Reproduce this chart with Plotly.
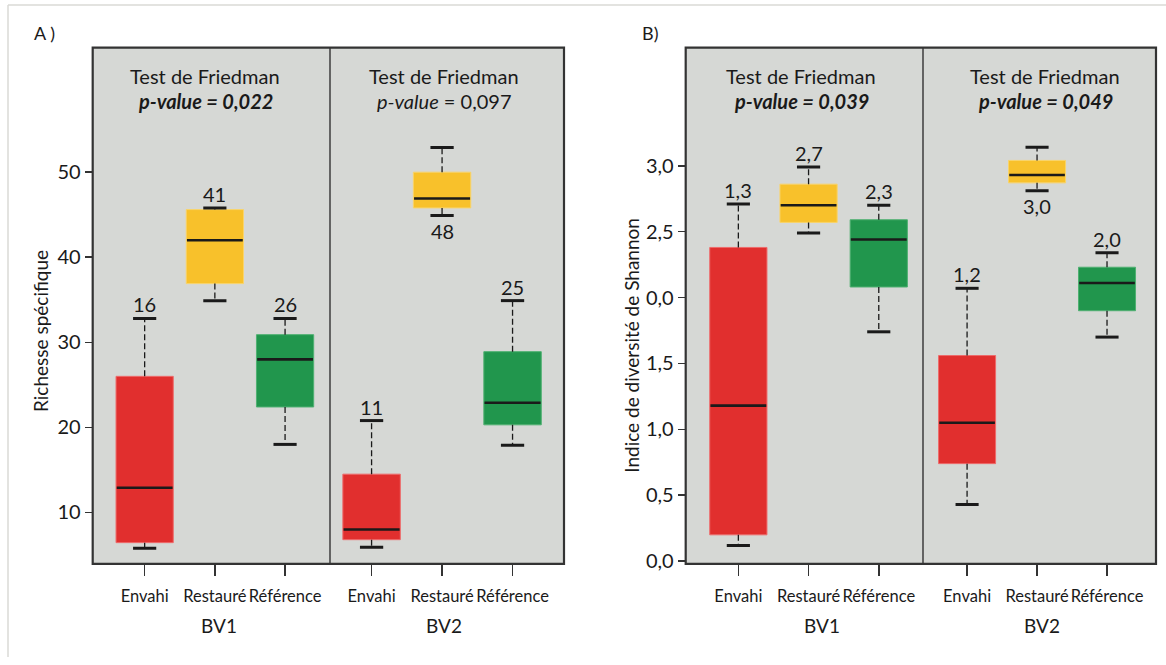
import plotly.graph_objects as go

# ---------------- data ----------------
categories = ["Envahi", "Restauré", "Référence"]
groups = ["BV1", "BV2"]
box_colors = ["#E12F2E", "#F8C12B", "#21964D"]
box_edges = ["#EE6A6A", "#F9D46A", "#4FB071"]

# Panel A : Richesse spécifique
rich_bv1_low = [5.8, 34.9, 18.0]
rich_bv1_q1 = [6.45, 36.9, 22.4]
rich_bv1_med = [12.9, 42.0, 28.0]
rich_bv1_q3 = [26.0, 45.6, 30.9]
rich_bv1_high = [32.8, 45.8, 32.8]
rich_bv1_labels = ["16", "41", "26"]

rich_bv2_low = [5.9, 44.9, 17.9]
rich_bv2_q1 = [6.8, 45.8, 20.3]
rich_bv2_med = [8.0, 46.9, 22.9]
rich_bv2_q3 = [14.5, 50.0, 28.9]
rich_bv2_high = [20.8, 52.9, 34.9]
rich_bv2_labels = ["11", "48", "25"]

rich_tickvals = [10, 20, 30, 40, 50]
rich_ticktext = ["10", "20", "30", "40", "50"]

# Panel B : Indice de diversité de Shannon
shan_bv1_low = [0.12, 2.49, 1.74]
shan_bv1_q1 = [0.20, 2.57, 2.08]
shan_bv1_med = [1.18, 2.70, 2.44]
shan_bv1_q3 = [2.38, 2.86, 2.59]
shan_bv1_high = [2.71, 2.99, 2.70]
shan_bv1_labels = ["1,3", "2,7", "2,3"]

shan_bv2_low = [0.43, 2.81, 1.70]
shan_bv2_q1 = [0.74, 2.87, 1.90]
shan_bv2_med = [1.05, 2.93, 2.11]
shan_bv2_q3 = [1.56, 3.04, 2.23]
shan_bv2_high = [2.07, 3.14, 2.34]
shan_bv2_labels = ["1,2", "3,0", "2,0"]

shan_tickvals = [0, 0.5, 1.0, 1.5, 2.0, 2.5, 3.0]
shan_ticktext = ["0,0", "0,5", "1,0", "1,5", "0,0", "2,5", "3,0"]

# label drawn below the lower whisker instead of above the upper one
label_below = [False, False, False]
label_below_bv2 = [False, True, False]

FONT = "Lato"
W, H = 1166, 665

fig = go.Figure()

def px_x(p):
    return p / W

def px_y(p):
    return 1 - p / H

# subplot geometry (pixels)
y_top, y_bot = 48.3, 570.7
panels = [
    ("x", "y", 92.7, 330, [-0.74, 2.64]),
    ("x2", "y", 330, 564, [-0.59, 2.73]),
    ("x3", "y2", 685.7, 923, [-0.75, 2.63]),
    ("x4", "y2", 923, 1156, [-0.63, 2.70]),
]

datasets = [
    (rich_bv1_low, rich_bv1_q1, rich_bv1_med, rich_bv1_q3, rich_bv1_high, rich_bv1_labels, label_below),
    (rich_bv2_low, rich_bv2_q1, rich_bv2_med, rich_bv2_q3, rich_bv2_high, rich_bv2_labels, label_below_bv2),
    (shan_bv1_low, shan_bv1_q1, shan_bv1_med, shan_bv1_q3, shan_bv1_high, shan_bv1_labels, label_below),
    (shan_bv2_low, shan_bv2_q1, shan_bv2_med, shan_bv2_q3, shan_bv2_high, shan_bv2_labels, label_below_bv2),
]

BOX_W = 0.815
CAP_W = 0.33
annotations = []
TXT = "#1a1a1a"

for (xa, ya, _, _, _), (low, q1, med, q3, high, labels, below) in zip(panels, datasets):
    xs = list(range(len(categories)))
    fig.add_trace(go.Bar(
        x=xs, y=[b - a for a, b in zip(q1, q3)], base=q1, width=BOX_W,
        marker=dict(color=box_colors, line=dict(color=box_edges, width=1)),
        xaxis=xa, yaxis=ya, showlegend=False, hoverinfo="skip"))
    wx, wy = [], []
    for i in xs:
        wx += [i, i, None, i, i, None]
        wy += [q3[i], high[i], None, q1[i], low[i], None]
    fig.add_trace(go.Scatter(x=wx, y=wy, mode="lines",
                             line=dict(color=TXT, width=1.3, dash="6px,3px"),
                             xaxis=xa, yaxis=ya, showlegend=False, hoverinfo="skip"))
    cx, cy = [], []
    for i in xs:
        cx += [i - CAP_W / 2, i + CAP_W / 2, None, i - CAP_W / 2, i + CAP_W / 2, None]
        cy += [high[i], high[i], None, low[i], low[i], None]
    fig.add_trace(go.Scatter(x=cx, y=cy, mode="lines",
                             line=dict(color=TXT, width=3),
                             xaxis=xa, yaxis=ya, showlegend=False, hoverinfo="skip"))
    mx, my = [], []
    for i in xs:
        mx += [i - BOX_W / 2 + 0.01, i + BOX_W / 2 - 0.01, None]
        my += [med[i], med[i], None]
    fig.add_trace(go.Scatter(x=mx, y=my, mode="lines",
                             line=dict(color=TXT, width=2.6),
                             xaxis=xa, yaxis=ya, showlegend=False, hoverinfo="skip"))
    for i in xs:
        if below[i]:
            annotations.append(dict(x=i, y=low[i], xref=xa, yref=ya, text=labels[i],
                                    showarrow=False, xanchor="center", yanchor="top", yshift=-1,
                                    font=dict(family=FONT, size=20, color=TXT)))
        else:
            annotations.append(dict(x=i, y=high[i], xref=xa, yref=ya, text=labels[i],
                                    showarrow=False, xanchor="center", yanchor="bottom", yshift=0,
                                    font=dict(family=FONT, size=20, color=TXT)))

axis_common = dict(showgrid=False, zeroline=False, showline=False,
                   ticks="outside", tickcolor="#333", tickfont=dict(family=FONT, size=16.5, color=TXT))

layout = dict(
    width=W, height=H, margin=dict(l=0, r=0, t=0, b=0),
    paper_bgcolor="white", plot_bgcolor="#D6D8D5",
    font=dict(family=FONT, color=TXT),
    showlegend=False, bargap=0,
)
for (xa, ya, left, right, rng) in panels:
    key = "xaxis" if xa == "x" else "xaxis" + xa[1:]
    layout[key] = dict(axis_common, domain=[px_x(left), px_x(right)], range=rng,
                       tickvals=[0, 1, 2], ticktext=categories, ticklen=11, tickwidth=1.6,
                       tickangle=0, anchor=ya, fixedrange=True, ticklabelstandoff=6)

layout["yaxis"] = dict(axis_common, domain=[px_y(y_bot), px_y(y_top)], range=[3.96, 64.63],
                       tickvals=rich_tickvals, ticktext=rich_ticktext, ticklen=7, tickwidth=1.6,
                       anchor="x", tickfont=dict(family=FONT, size=20, color=TXT))
layout["yaxis2"] = dict(axis_common, domain=[px_y(y_bot), px_y(y_top)], range=[-0.02, 3.895],
                        tickvals=shan_tickvals, ticktext=shan_ticktext, ticklen=7, tickwidth=1.6,
                        anchor="x3", tickfont=dict(family=FONT, size=20, color=TXT))
fig.update_layout(**layout)

def paper_text(x, y, text, size, angle=0, xanchor="center"):
    return dict(x=px_x(x), y=px_y(y), xref="paper", yref="paper", text=text,
                showarrow=False, xanchor=xanchor, yanchor="middle", textangle=angle,
                font=dict(family=FONT, size=size, color=TXT))

# panel titles
titles = [
    ("Test de Friedman", "<b><i>p-value = 0,022</i></b>", 205),
    ("Test de Friedman", "<i>p-value</i> = 0,097", 444),
    ("Test de Friedman", "<b><i>p-value = 0,039</i></b>", 801),
    ("Test de Friedman", "<b><i>p-value = 0,049</i></b>", 1045),
]
for t1, t2, cxp in titles:
    annotations.append(paper_text(cxp, 77, t1, 20))
    annotations.append(paper_text(cxp, 102, t2, 20))

# group labels
for g, cxp in zip(groups + groups, [219, 444, 822, 1042]):
    annotations.append(paper_text(cxp, 633, g, 19))

# axis titles
annotations.append(paper_text(41, 335, "Richesse spécifique", 19, angle=-90))
annotations.append(paper_text(632, 350, "Indice de diversité de Shannon", 19, angle=-90))
# panel letters
annotations.append(paper_text(32, 33, "A )", 18, xanchor="left"))
annotations.append(paper_text(640, 33, "B)", 18, xanchor="left"))

shapes = []
shapes.append(dict(type="line", xref="paper", yref="paper", x0=px_x(8), x1=1, y0=px_y(5), y1=px_y(5),
                   line=dict(color="#DADAD6", width=1.5)))
shapes.append(dict(type="line", xref="paper", yref="paper", x0=px_x(8), x1=px_x(8), y0=px_y(5), y1=0,
                   line=dict(color="#DADAD6", width=1.5)))
for left, mid, right in [(92.7, 330, 564), (685.7, 923, 1156)]:
    shapes.append(dict(type="rect", xref="paper", yref="paper",
                       x0=px_x(left), x1=px_x(right), y0=px_y(y_bot), y1=px_y(y_top),
                       line=dict(color="#333", width=2.2)))
    shapes.append(dict(type="line", xref="paper", yref="paper",
                       x0=px_x(mid), x1=px_x(mid), y0=px_y(y_bot), y1=px_y(y_top),
                       line=dict(color="#333", width=1.4)))

fig.update_layout(annotations=annotations, shapes=shapes)
fig.write_html(
    "out.html",
    config={"displayModeBar": False, "staticPlot": True},
    post_script="document.body.style.margin='0';document.body.style.overflow='hidden';",
)
